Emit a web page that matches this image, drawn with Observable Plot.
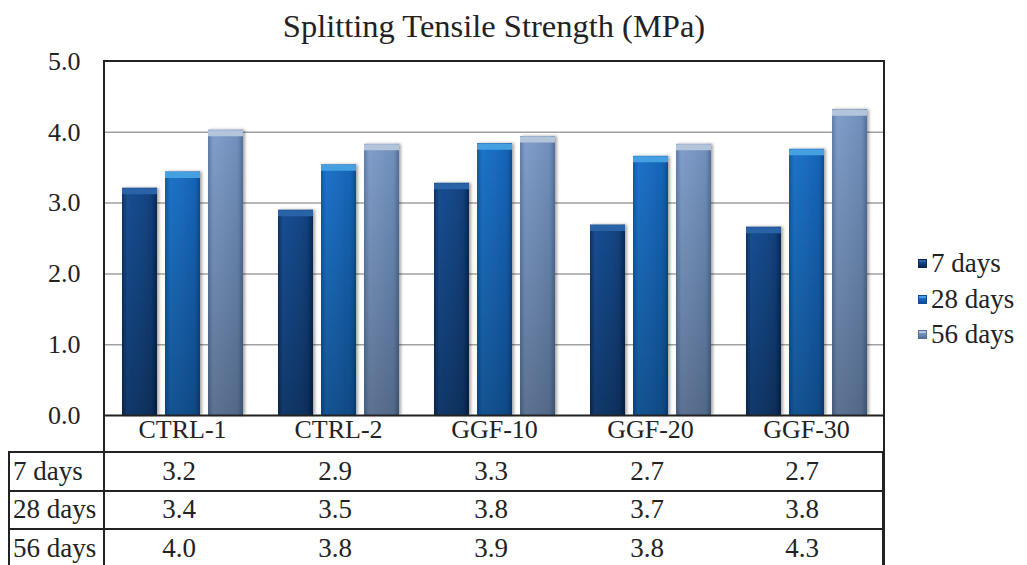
<!DOCTYPE html>
<html>
<head>
<meta charset="utf-8">
<script src="https://cdn.jsdelivr.net/npm/d3@7"></script>
<script src="https://cdn.jsdelivr.net/npm/@observablehq/plot@0.6"></script>
<style>
  html, body { margin: 0; padding: 0; background: #fff; }
  #wrap { position: relative; width: 1027px; height: 565px; overflow: hidden; font-family: "Liberation Serif", "Times New Roman", serif; color: #222; }
  #title { position: absolute; left: 104px; width: 780px; top: 10px; text-align: center; font-size: 32.5px; line-height: 32px; }
  #chart { position: absolute; left: 0; top: 45px; }
  #frame { position: absolute; left: 103px; top: 60px; width: 782px; height: 520px; box-sizing: border-box;
           border: 2px solid #222; border-bottom: none; pointer-events: none; }
  #table { position: absolute; left: 8px; top: 451px; border-collapse: separate; border-spacing: 0; font-size: 27px; }
  #table td { height: 38.5px; box-sizing: border-box; padding: 0; border-top: 2px solid #222; vertical-align: middle; white-space: nowrap; }
  #table td.head { width: 96px; border-left: 2px solid #222; padding-left: 3px; text-align: left; }
  #table td.val { width: 156px; text-align: center; padding-right: 6px; }
  #legend { position: absolute; left: 918px; top: 250px; font-size: 27px; }
  .item { position: absolute; left: 0; white-space: nowrap; line-height: 26px; }
  .swatch { position: absolute; left: 0; top: 9px; width: 9px; height: 9px; box-sizing: border-box; }
  .item span.lab { position: absolute; left: 13px; top: 0; }
</style>
</head>
<body>
<div id="wrap">
  <div id="title">Splitting Tensile Strength (MPa)</div>
  <div id="chart"></div>
  <table id="table"></table>
  <div id="frame"></div>
  <div id="legend"></div>
</div>
<script>
// Mixes and curing ages
const categories = ["CTRL-1", "CTRL-2", "GGF-10", "GGF-20", "GGF-30"];
const series = ["7 days", "28 days", "56 days"];

// Splitting tensile strength (MPa) per mix, one array per curing age
const days7 = [3.21, 2.90, 3.28, 2.69, 2.66];
const days28 = [3.44, 3.54, 3.84, 3.66, 3.76];
const days56 = [4.03, 3.83, 3.94, 3.83, 4.32];

// Value axis ticks
const yTicks = [0, 1, 2, 3, 4, 5];
const gridValues = [1, 2, 3, 4];

const seriesValues = [days7, days28, days56];
const rows = categories.flatMap((c, i) =>
  series.map((s, j) => ({category: c, series: s, value: seriesValues[j][i]}))
);
const fmt = d3.format(".1f");

// Bar body gradients (bevelled look) and top-cap colours
const gradientIds = ["g7", "g28", "g56"];
const bodyStops = [
  ["#0d3468", "#1a4f94", "#174a8a", "#11407c", "#092852"],
  ["#135aa8", "#1f74c9", "#1b6dc2", "#1765b6", "#0e4d95"],
  ["#607fab", "#819fcb", "#7a98c4", "#7190bc", "#54709a"]
];
const capColors = ["#2a62a8", "#44a0e0", "#b3c5db"];
const swatchColors = ["#174a8a", "#1b6dc2", "#7a98c4"];

const plot = Plot.plot({
  width: 900,
  height: 407,
  marginTop: 16,
  marginLeft: 104,
  marginRight: 16,
  marginBottom: 37,
  style: {fontFamily: "'Liberation Serif', 'Times New Roman', serif", fontSize: "26px", background: "transparent", color: "#222", overflow: "visible"},
  fx: {domain: categories, padding: 0, axis: "bottom", label: null, tickSize: 0, tickPadding: 4},
  x: {domain: series, axis: null, paddingInner: 0.195, paddingOuter: 0.387},
  y: {domain: [0, 5], ticks: yTicks, tickFormat: fmt, tickSize: 0, tickPadding: 24, label: null},
  color: {domain: series, range: gradientIds.map(id => `url(#${id})`)},
  marks: [
    Plot.ruleY(gridValues, {stroke: "#a0a0a0", strokeWidth: 1.5}),
    Plot.barY(rows, {fx: "category", x: "series", y: "value", fill: "series"}),
    Plot.barY(rows, {fx: "category", x: "series", y: "value", fill: "url(#shade)"}),
    ...series.map((s, j) =>
      Plot.tickY(rows.filter(d => d.series === s), {fx: "category", x: "series", y: "value", stroke: capColors[j], strokeWidth: 6, dy: 3})
    ),
    Plot.ruleY([0], {stroke: "#222", strokeWidth: 2})
  ]
});

// Gradient and shadow definitions referenced by the bar fills
const svg = d3.select(plot);
const defs = svg.insert("defs", ":first-child");
gradientIds.forEach((id, j) => {
  const g = defs.append("linearGradient").attr("id", id).attr("x1", 0).attr("x2", 1).attr("y1", 0).attr("y2", 0);
  [0, 0.15, 0.5, 0.85, 1].forEach((o, k) => g.append("stop").attr("offset", o).attr("stop-color", bodyStops[j][k]));
});
const shade = defs.append("linearGradient").attr("id", "shade").attr("x1", 0).attr("x2", 0).attr("y1", 0).attr("y2", 1);
shade.append("stop").attr("offset", 0).attr("stop-color", "#000").attr("stop-opacity", 0);
shade.append("stop").attr("offset", 1).attr("stop-color", "#000").attr("stop-opacity", 0.28);
const shadow = defs.append("filter").attr("id", "barShadow").attr("x", "-20%").attr("y", "-5%").attr("width", "150%").attr("height", "110%");
shadow.append("feDropShadow").attr("dx", 2).attr("dy", 0).attr("stdDeviation", 1.5).attr("flood-color", "#000").attr("flood-opacity", 0.35);
svg.selectAll('g[aria-label="bar"]').filter((d, i) => i === 0).attr("filter", "url(#barShadow)");

document.getElementById("chart").appendChild(plot);

// Data table below the chart
const table = d3.select("#table");
series.forEach((s, j) => {
  const tr = table.append("tr");
  tr.append("td").attr("class", "head").text(s);
  categories.forEach((c, i) => {
    const td = tr.append("td").attr("class", "val").text(fmt(seriesValues[j][i]));
    if (i === categories.length - 1) td.style("border-right", "2px solid #222");
  });
});

// Legend
const legend = d3.select("#legend");
series.forEach((s, j) => {
  const item = legend.append("div").attr("class", "item").style("top", `${j * 35.5}px`);
  item.append("div").attr("class", "swatch")
    .style("background", `linear-gradient(to bottom, ${capColors[j]} 0%, ${capColors[j]} 30%, ${swatchColors[j]} 31%, ${bodyStops[j][4]} 100%)`)
    .style("border", `1px solid ${bodyStops[j][4]}`);
  item.append("span").attr("class", "lab").text(s);
});
</script>
</body>
</html>
